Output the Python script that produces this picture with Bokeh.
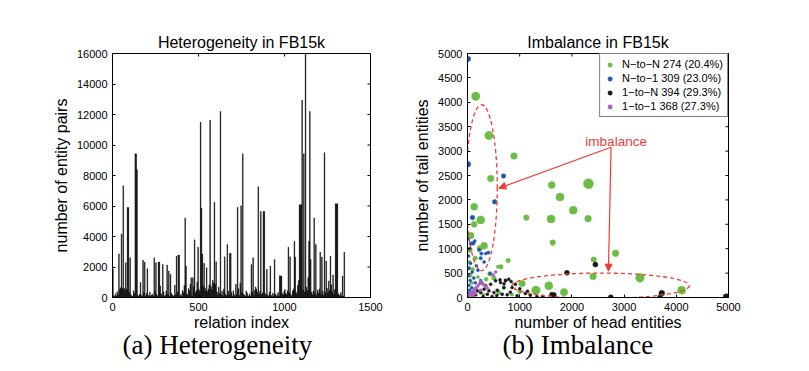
import numpy as np
from bokeh.plotting import figure
from bokeh.models import (ColumnDataSource, SingleIntervalTicker, Title,
                          Arrow, NormalHead, Label, Range1d)
from bokeh.layouts import row
from bokeh.embed import file_html
from bokeh.resources import INLINE

# ---------------- data: (a) heterogeneity ----------------
# relation index (buckets of 5 relations) and number of entity pairs
relation_bucket_start = list(range(0, 1350, 5))
pair_counts = [
    1850, 120, 60, 250, 90, 380, 170, 2860, 520, 640,
    4170, 590, 7330, 610, 480, 2280, 560, 5900, 5900, 350,
    2600, 180, 90, 70, 440, 260, 9420, 9420, 8380, 130,
    60, 210, 980, 150, 80, 2450, 310, 2320, 90, 270,
    1890, 140, 60, 350, 80, 160, 220, 90, 2600, 410,
    2280, 190, 70, 2320, 2320, 760, 250, 120, 2170, 380,
    90, 150, 420, 2130, 210, 1740, 80, 1520, 300, 160,
    120, 60, 810, 190, 2710, 340, 2780, 2780, 110, 210,
    70, 460, 320, 780, 5210, 2060, 250, 160, 590, 450,
    880, 1300, 120, 1300, 720, 3780, 310, 460, 1020, 3300,
    540, 420, 11500, 5860, 2860, 760, 2240, 620, 450, 1950,
    390, 560, 830, 11630, 720, 510, 1130, 940, 6250, 880,
    2340, 360, 150, 680, 290, 12200, 180, 420, 90, 560,
    2670, 230, 110, 3470, 420, 170, 2900, 2900, 320, 90,
    450, 180, 70, 870, 220, 5920, 580, 130, 930, 6010,
    320, 9420, 210, 160, 80, 430, 300, 110, 60, 240,
    90, 2170, 380, 2600, 150, 470, 690, 560, 340, 7270,
    220, 410, 5640, 180, 300, 5640, 5640, 260, 120, 1850,
    170, 90, 350, 2060, 140, 60, 280, 110, 2500, 230,
    80, 150, 320, 90, 1430, 1410, 1410, 240, 170, 380,
    520, 260, 190, 440, 3300, 310, 2670, 180, 90, 420,
    560, 3690, 2650, 350, 230, 780, 1110, 6080, 6080, 6080,
    12940, 520, 9420, 360, 15950, 680, 450, 1300, 3690, 12200,
    2500, 340, 190, 420, 5210, 260, 3470, 150, 480, 300,
    560, 2970, 220, 2650, 410, 160, 9500, 330, 2390, 590,
    270, 1090, 440, 2710, 830, 360, 1480, 210, 520, 6140,
    6140, 6140, 240, 170, 90, 310, 120, 1410, 60, 2970,
]
het_x_ticks = [0, 500, 1000, 1500]
het_y_ticks = [0, 2000, 4000, 6000, 8000, 10000, 12000, 14000, 16000]

# ---------------- data: (b) imbalance ----------------
nn_head = [158, 412, 890, 445, 1614, 2317, 1772, 2026, 127, 253, 127, 63, 1127, 1601, 2310,
           1633, 318, 236, 40, 779, 2418, 2836, 639, 146, 430, 2405, 3304, 1044, 1310, 1557,
           1848, 4102, 506, 585, 356, 20, 50, 80, 150, 250, 30, 100, 200, 600, 850, 700,
           1000, 1200, 300, 120]
nn_tail = [4125, 3320, 2900, 2440, 2305, 2332, 2060, 1787, 1862, 1590, 1500, 1270, 1637, 1610, 1616,
           1125, 1060, 1010, 980, 757, 778, 907, 627, 805, 484, 430, 402, 286, 150, 239,
           109, 150, 402, 628, 376, 600, 450, 300, 180, 120, 720, 580, 420, 100, 60, 200,
           120, 60, 60, 40]
nn_weight = [4.2, 4.2, 3.3, 3.3, 3.5, 5.0, 4.0, 4.0, 3.5, 4.0, 3.0, 3.3, 2.8, 4.0, 3.3,
             2.8, 3.5, 2.7, 2.7, 2.3, 2.7, 3.3, 2.3, 2.3, 2.3, 3.3, 4.3, 3.3, 4.3, 4.0,
             3.7, 4.0, 2.3, 1.8, 2.0, 2.0, 2.0, 1.8, 1.8, 1.8, 2.0, 1.8, 1.6, 2.2, 1.8, 1.8,
             2.0, 1.5, 1.6, 1.5]

n1_head = [10, 10, 690, 520, 95, 108, 63, 222, 266, 399, 253, 350, 318, 432, 40, 20, 60, 30,
           90, 15, 120, 50, 150, 25, 80, 40, 110, 20, 60, 170, 200, 10, 140, 250]
n1_tail = [4890, 2730, 2490, 1960, 1637, 1112, 1105, 975, 900, 920, 805, 900, 730, 491, 1000, 850,
           700, 600, 520, 450, 400, 350, 300, 250, 200, 150, 100, 80, 40, 650, 560, 1200, 1160, 350]
n1_weight = [2.7, 2.7, 2.3, 2.3, 2.3, 2.0, 1.7, 1.7, 1.7, 1.7, 1.7, 1.5, 1.5, 1.5, 1.5, 1.5,
             1.5, 1.5, 1.5, 1.5, 1.5, 1.5, 1.5, 1.5, 1.5, 1.5, 1.5, 1.5, 1.5, 1.5, 1.5, 1.5, 1.5, 1.3]

oneN_head = [4960, 1905, 2450, 2745, 3722, 3690, 1614, 1659, 1443,
             266, 348, 443, 538, 633, 728, 791, 836, 918, 855, 696, 570, 506, 665, 760, 950,
             1108, 1203, 1330, 380, 253, 158, 190, 317, 411, 623, 732, 700, 1000, 1150, 470,
             300, 560, 820]
oneN_tail = [10, 505, 675, 5, 89, 5, 61, 55, 14,
             307, 239, 273, 341, 307, 355, 375, 327, 273, 205, 205, 150, 102, 68, 55, 34,
             82, 48, 20, 68, 102, 55, 136, 170, 136, 362, 342, 280, 180, 130, 20,
             20, 40, 110]
oneN_weight = [3.3, 2.5, 2.5, 2.5, 2.8, 2.5, 2.3, 2.3, 1.8,
               1.5, 1.5, 1.5, 1.5, 1.5, 1.5, 1.5, 1.5, 1.5, 1.5, 1.5, 1.5, 1.5, 1.5, 1.5, 1.5,
               1.5, 1.5, 1.5, 1.5, 1.5, 1.5, 1.5, 1.5, 1.5, 1.5, 1.5, 1.5, 1.5, 1.5, 1.5,
               1.5, 1.5, 1.5]

oo_head = [20, 50, 80, 110, 140, 170, 200, 230, 254, 300, 340, 382, 540, 489, 150, 250, 60, 100]
oo_tail = [25, 60, 95, 130, 170, 200, 240, 280, 320, 270, 230, 190, 525, 464, 80, 150, 20, 30]
oo_weight = [1.5] * 18

imb_x_ticks = [0, 1000, 2000, 3000, 4000, 5000]
imb_y_ticks = [0, 500, 1000, 1500, 2000, 2500, 3000, 3500, 4000, 4500, 5000]

legend_labels = ["N\u2212to\u2212N 274 (20.4%)", "N\u2212to\u22121 309 (23.0%)",
                 "1\u2212to\u2212N 394 (29.3%)", "1\u2212to\u22121 368 (27.3%)"]
captions = ["(a) Heterogeneity", "(b) Imbalance"]

# annotation anchors (data units)
ell_vert = dict(x=270, y=2250, w=600, h=3400)
ell_horz = dict(x=2550, y=240, w=3400, h=520)
arrow_start = (2750, 3080)
arrow_ends = [(600, 2240), (2700, 540)]
imb_label_pos = (2258, 3205)

# ---------------- styles ----------------
FONT = "Liberation Sans"
SERIF = "Liberation Serif"
GREEN = "#6cbd45"
BLUE = "#2356b0"
BLACK = "#1a1a1a"
PURPLE = "#b060c0"
RED = "#f03c32"
H = 371


def style_axes(p, xticks, yticks):
    xr, yr = p.x_range, p.y_range
    for ax in p.xaxis + p.yaxis:
        ax.major_label_text_font = FONT
        ax.major_label_text_font_size = "11px"
        ax.major_label_text_color = "black"
        ax.axis_label_text_font = FONT
        ax.axis_label_text_font_size = "16px"
        ax.axis_label_text_font_style = "normal"
        ax.axis_label_text_color = "black"
        ax.major_tick_in = 3
        ax.major_tick_out = 0
        ax.minor_tick_line_color = None
        ax.axis_line_color = "black"
        ax.major_tick_line_color = "black"
        ax.major_label_standoff = 1
        ax.axis_label_standoff = 0
    p.yaxis.axis_label_standoff = 4
    p.xaxis.ticker = SingleIntervalTicker(interval=xticks[1] - xticks[0])
    p.yaxis.ticker = SingleIntervalTicker(interval=yticks[1] - yticks[0])
    # box-style inner ticks on the top and right edges of the frame
    p.scatter(x=xticks, y=[yr.end] * len(xticks), marker="dash", angle=np.pi / 2, size=6,
              line_color="black", line_width=1)
    p.scatter(x=[xr.end] * len(yticks), y=yticks, marker="dash", size=6,
              line_color="black", line_width=1)
    p.grid.visible = False
    p.outline_line_color = "black"
    p.title.text_font = FONT
    p.title.text_font_size = "16px"
    p.title.text_font_style = "normal"
    p.title.text_color = "black"
    p.title.align = "center"
    p.title.standoff = 5


def add_caption(p, text, dx):
    p.add_layout(Title(text=text, align="left", offset=dx, text_font=SERIF, text_color="black",
                       text_font_size="27px", text_font_style="normal", standoff=-12), "below")


# ---------------- (a) ----------------
p1 = figure(width=404, height=H, x_range=Range1d(0, 1500), y_range=Range1d(0, 16000),
            output_backend="svg", toolbar_location=None, title="Heterogeneity in FB15k",
            min_border_left=112, min_border_right=34, min_border_top=52, min_border_bottom=74,
            x_axis_label="relation index", y_axis_label="number of entity pairs")
src1 = ColumnDataSource(dict(x=[s + 2.5 for s in relation_bucket_start], top=pair_counts))
p1.vbar(x="x", top="top", width=4.2, bottom=0, source=src1, fill_color="black",
        line_color="black", line_width=0.4)
style_axes(p1, het_x_ticks, het_y_ticks)
add_caption(p1, captions[0], 10)

# ---------------- (b) ----------------
p2 = figure(width=405, height=H, x_range=Range1d(0, 5000), y_range=Range1d(0, 5000),
            output_backend="svg", toolbar_location=None, title="Imbalance in FB15k",
            min_border_left=63, min_border_right=81, min_border_top=53, min_border_bottom=74,
            x_axis_label="number of head entities", y_axis_label="number of tail entities")

groups = [(nn_head, nn_tail, nn_weight, GREEN), (n1_head, n1_tail, n1_weight, BLUE),
          (oneN_head, oneN_tail, oneN_weight, BLACK), (oo_head, oo_tail, oo_weight, PURPLE)]
for (hx, ty, w, c), lab in zip(groups, legend_labels):
    src = ColumnDataSource(dict(x=hx, y=ty, s=[2.0 * v for v in w]))
    p2.scatter(x="x", y="y", size="s", source=src, fill_color=c, line_color=c, line_width=0.5,
               legend_label=lab)

p2.ellipse(x=[ell_vert["x"], ell_horz["x"]], y=[ell_vert["y"], ell_horz["y"]],
           width=[ell_vert["w"], ell_horz["w"]], height=[ell_vert["h"], ell_horz["h"]],
           fill_color=None, line_color=RED, line_width=1.3, line_dash="4 3")
for ex, ey in arrow_ends:
    p2.add_layout(Arrow(end=NormalHead(size=7, fill_color=RED, line_color=RED),
                        x_start=arrow_start[0], y_start=arrow_start[1], x_end=ex, y_end=ey,
                        line_color=RED, line_width=1.2))
p2.add_layout(Label(x=imb_label_pos[0], y=imb_label_pos[1], text="imbalance", text_color=RED,
                    text_font=FONT, text_font_size="13.5px", text_baseline="middle"))
style_axes(p2, imb_x_ticks, imb_y_ticks)
add_caption(p2, captions[1], 35)

lg = p2.legend[0]
lg.location = "top_right"
lg.margin = 0
lg.padding = 4
lg.spacing = 2
lg.glyph_height = 11
lg.glyph_width = 11
lg.label_height = 11
lg.label_standoff = 7
lg.label_text_font = FONT
lg.label_text_font_size = "11px"
lg.label_text_color = "black"
lg.border_line_color = "black"
lg.border_line_width = 1
lg.background_fill_alpha = 1.0

layout = row(p1, p2)
open("out.html", "w").write(file_html(layout, INLINE))
